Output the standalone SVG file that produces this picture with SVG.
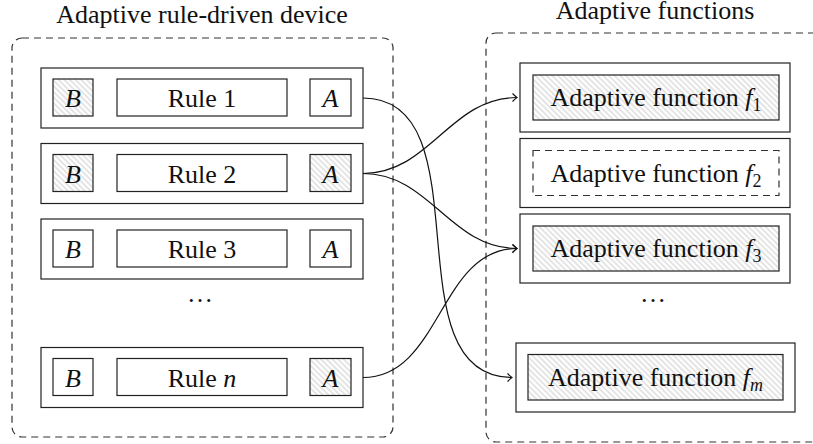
<svg xmlns="http://www.w3.org/2000/svg" width="813" height="444" viewBox="0 0 813 444">
<style>
  text { font-family: "Liberation Serif", "Times New Roman", Times, "Tinos", "Noto Serif", "DejaVu Serif", "FreeSerif", serif; font-size: 26px; fill: #111; }
  .c { text-anchor: middle; }
  .it { font-style: italic; }
  .box { fill: #fff; stroke: #222; stroke-width: 1.2; }
  .hat { fill: url(#hatch); stroke: #222; stroke-width: 1.2; }
  .dash { fill: none; stroke: #333; stroke-width: 1.2; stroke-dasharray: 7 5; }
  .idash { fill: #fff; stroke: #333; stroke-width: 1.2; stroke-dasharray: 7 5; }
  .edge { fill: none; stroke: #111; stroke-width: 1.2; marker-end: url(#arr); }
</style>
<defs>
  <pattern id="hatch" width="4" height="4" patternUnits="userSpaceOnUse" patternTransform="rotate(-45)">
    <rect width="4" height="4" fill="#fff"/>
    <line x1="1" y1="0" x2="1" y2="4" stroke="#bdbdbd" stroke-width="0.8"/>
  </pattern>
  <marker id="arr" markerUnits="userSpaceOnUse" markerWidth="12" markerHeight="12" viewBox="-8 -6 10 12" refX="0" refY="0" orient="auto">
    <path d="M-4.5,-4 Q-1.2,-0.8 0,0 Q-1.2,0.8 -4.5,4" fill="none" stroke="#111" stroke-width="1.1"/>
  </marker>
</defs>

<g id="device">
  <text class="c" x="202" y="23" font-family="Liberation Serif">Adaptive rule-driven device</text>
  <rect class="dash" x="12" y="38" width="381" height="399" rx="10"/>
  <text class="c" x="200" y="302">…</text>
</g>

<g id="rule1">
  <rect class="box" x="41" y="68" width="322" height="60"/>
  <rect class="hat" x="53" y="79" width="40" height="37"/>
  <text class="c it" x="73" y="107">B</text>
  <rect class="box" x="117" y="79" width="170" height="37"/>
  <text class="c" x="202" y="107">Rule 1</text>
  <rect class="box" x="310" y="79" width="41" height="37"/>
  <text class="c it" x="330.5" y="107">A</text>
</g>

<g id="rule2">
  <rect class="box" x="41" y="143.5" width="322" height="60"/>
  <rect class="hat" x="53" y="154.5" width="40" height="37"/>
  <text class="c it" x="73" y="182.5">B</text>
  <rect class="box" x="117" y="154.5" width="170" height="37"/>
  <text class="c" x="202" y="182.5">Rule 2</text>
  <rect class="hat" x="310" y="154.5" width="41" height="37"/>
  <text class="c it" x="330.5" y="182.5">A</text>
</g>

<g id="rule3">
  <rect class="box" x="41" y="219" width="322" height="60"/>
  <rect class="box" x="53" y="230" width="40" height="37"/>
  <text class="c it" x="73" y="258">B</text>
  <rect class="box" x="117" y="230" width="170" height="37"/>
  <text class="c" x="202" y="258">Rule 3</text>
  <rect class="box" x="310" y="230" width="41" height="37"/>
  <text class="c it" x="330.5" y="258">A</text>
</g>

<g id="rulen">
  <rect class="box" x="41" y="347.5" width="322" height="60"/>
  <rect class="box" x="53" y="358.5" width="40" height="37"/>
  <text class="c it" x="73" y="386.5">B</text>
  <rect class="box" x="117" y="358.5" width="170" height="37"/>
  <text class="c" x="202" y="386.5">Rule <tspan class="it">n</tspan></text>
  <rect class="hat" x="310" y="358.5" width="41" height="37"/>
  <text class="c it" x="330.5" y="386.5">A</text>
</g>

<g id="functions">
  <text class="c" x="655" y="19">Adaptive functions</text>
  <rect class="dash" x="486" y="33" width="340" height="409" rx="10"/>
  <text class="c" x="653" y="302">…</text>
</g>

<g id="f1">
  <rect class="box" x="520" y="63" width="270" height="69"/>
  <rect class="hat" x="533" y="75" width="246" height="45"/>
  <text class="c" x="656" y="106">Adaptive function <tspan class="it">f</tspan><tspan font-size="18" dy="5">1</tspan></text>
</g>

<g id="f2">
  <rect class="box" x="520" y="138.5" width="270" height="69"/>
  <rect class="idash" x="533" y="150.5" width="246" height="45"/>
  <text class="c" x="656" y="181.5">Adaptive function <tspan class="it">f</tspan><tspan font-size="18" dy="5">2</tspan></text>
</g>

<g id="f3">
  <rect class="box" x="520" y="214" width="270" height="69"/>
  <rect class="hat" x="533" y="226" width="246" height="45"/>
  <text class="c" x="656" y="257">Adaptive function <tspan class="it">f</tspan><tspan font-size="18" dy="5">3</tspan></text>
</g>

<g id="fm">
  <rect class="box" x="516" y="343" width="279" height="69"/>
  <rect class="hat" x="528" y="354.5" width="255" height="45.5"/>
  <text class="c" x="655.5" y="386">Adaptive function <tspan class="it">f</tspan><tspan class="it" font-size="18" dy="5">m</tspan></text>
</g>

<g id="connectors">
  <path class="edge" d="M363,98 C487,98 388,377.5 512,377.5"/>
  <path class="edge" d="M363,173.5 C430,173.5 450,97.5 517,97.5"/>
  <path class="edge" d="M363,173.5 C430,173.5 450,248.5 517,248.5"/>
  <path class="edge" d="M363,377.5 C441,377.5 439,248.5 517,248.5"/>
</g>
</svg>
